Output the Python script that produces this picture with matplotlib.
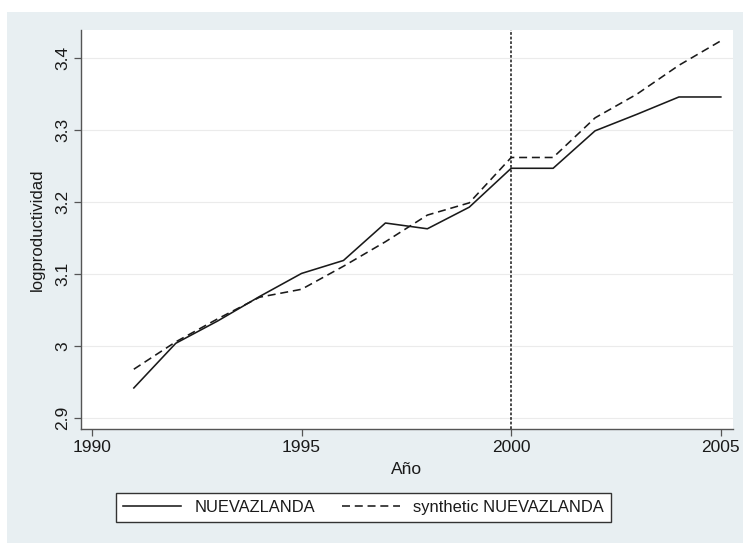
import matplotlib
matplotlib.use("Agg")
import matplotlib.pyplot as plt
from matplotlib.patches import Rectangle

years = list(range(1991, 2006))
nz_actual = [2.942, 3.004, 3.035, 3.069, 3.101, 3.119, 3.171, 3.163, 3.193,
             3.247, 3.247, 3.299, 3.322, 3.346, 3.346]
nz_synth = [2.968, 3.006, 3.038, 3.068, 3.079, 3.111, 3.145, 3.182, 3.199,
            3.262, 3.262, 3.317, 3.350, 3.390, 3.424]
treat_year = 2000
xticks = [1990, 1995, 2000, 2005]
yticks = [2.9, 3.0, 3.1, 3.2, 3.3, 3.4]
ytick_labels = ["2.9", "3", "3.1", "3.2", "3.3", "3.4"]
labels = ["NUEVAZLANDA", "synthetic NUEVAZLANDA"]

plt.rcParams['font.family'] = ['Liberation Sans', 'DejaVu Sans']

W, H = 743, 543
fig = plt.figure(figsize=(W / 100, H / 100), dpi=100)
fig.patch.set_facecolor('white')
bg = '#E8EFF2'
fig.patches.append(Rectangle((7 / W, 0), 1 - 7 / W, 1 - 12 / H, transform=fig.transFigure,
                             facecolor=bg, edgecolor='none', zorder=-10))

l, r, t, b = 81, 733, 30, 429
ax = fig.add_axes([l / W, (H - b) / H, (r - l) / W, (b - t) / H])
ax.set_facecolor('white')
ax.set_zorder(1)

ax.plot(years, nz_actual, color='#1a1a1a', lw=1.15, label=labels[0], zorder=3)
ax.plot(years, nz_synth, color='#1a1a1a', lw=1.15, ls=(0, (5, 3)), label=labels[1], zorder=3)
ax.axvline(treat_year, color='#1a1a1a', lw=1.1, ls=(0, (1.8, 1.2)), zorder=2)

ax.set_xlim(1989.74, 2005.29)
ax.set_ylim(2.885, 3.439)
ax.set_xticks(xticks)
ax.set_yticks(yticks)
ax.set_yticklabels(ytick_labels, rotation=90, va='center')
ax.grid(axis='y', color='#EBEBEB', lw=0.8)
ax.set_axisbelow(True)

for s in ['top', 'right']:
    ax.spines[s].set_visible(False)
for s in ['left', 'bottom']:
    ax.spines[s].set_color('#555555')
    ax.spines[s].set_linewidth(1.0)
ax.tick_params(axis='both', direction='out', length=5, width=0.9, color='#555555',
               labelsize=12.5, labelcolor='#1a1a1a', pad=3)

ax.set_xlabel('Año', fontsize=12.5, color='#1a1a1a', labelpad=5)
ax.set_ylabel('logproductividad', fontsize=12, color='#1a1a1a', labelpad=7)

leg = fig.legend(loc='center', bbox_to_anchor=((117 + 610) / 2 / W, 1 - 507.5 / H),
                 ncol=2, frameon=True, fontsize=11.9, handlelength=3.5,
                 columnspacing=1.65, handletextpad=0.8, fancybox=False,
                 borderpad=0.45, edgecolor='#333333', framealpha=1.0)
leg.get_frame().set_linewidth(1.0)
leg.get_frame().set_facecolor('white')
for txt in leg.get_texts():
    txt.set_color('#1a1a1a')

fig.savefig('out.png', dpi=100, facecolor=fig.get_facecolor())
